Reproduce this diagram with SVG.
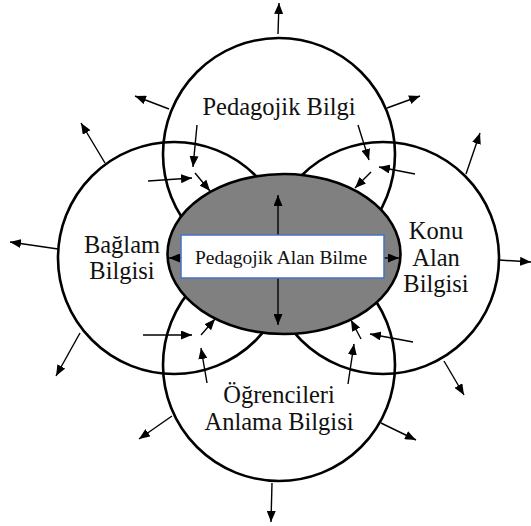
<svg xmlns="http://www.w3.org/2000/svg" width="531" height="526" viewBox="0 0 531 526">
<style>
.c{fill:none;stroke:#000;stroke-width:2.6}
.lbl{font-family:"Liberation Serif","Times New Roman",serif;font-size:24.5px;fill:#111;text-anchor:middle}
.a{stroke:#000;stroke-width:1.4;fill:none;marker-end:url(#ah)}
</style>
<defs>
<marker id="ah" viewBox="0 0 11 9" refX="11" refY="4.5" markerWidth="11" markerHeight="9" markerUnits="userSpaceOnUse" orient="auto">
<path d="M0,0 L11,4.5 L0,9 z" fill="#000"/>
</marker>
</defs>
<rect width="531" height="526" fill="#fff"/>
<g id="pedagojik-bilgi">
<circle class="c" cx="279" cy="154" r="116"/>
<text class="lbl" x="279" y="115">Pedagojik Bilgi</text>
</g>
<g id="baglam-bilgisi">
<circle class="c" cx="174" cy="258" r="116"/>
<text class="lbl" x="122" y="253">Bağlam</text>
<text class="lbl" x="122" y="279">Bilgisi</text>
</g>
<g id="konu-alan-bilgisi">
<circle class="c" cx="383" cy="258" r="116"/>
<text class="lbl" x="436" y="239">Konu</text>
<text class="lbl" x="436" y="266">Alan</text>
<text class="lbl" x="436" y="292">Bilgisi</text>
</g>
<g id="ogrencileri-anlama-bilgisi">
<circle class="c" cx="279" cy="365" r="116"/>
<text class="lbl" x="279" y="403">Öğrencileri</text>
<text class="lbl" x="279" y="430">Anlama Bilgisi</text>
</g>
<g id="pab-ellipse">
<ellipse cx="284" cy="254" rx="116.5" ry="80" fill="#808080" stroke="#000" stroke-width="2.6"/>
</g>
<g id="connectors">
<line class="a" x1="278" y1="34" x2="279" y2="3"/>
<line class="a" x1="169" y1="109" x2="135" y2="96"/>
<line class="a" x1="387" y1="108" x2="420" y2="96"/>
<line class="a" x1="105" y1="163" x2="81" y2="123"/>
<line class="a" x1="466" y1="174" x2="480" y2="133"/>
<line class="a" x1="58" y1="249" x2="10" y2="242"/>
<line class="a" x1="499" y1="260" x2="531" y2="262"/>
<line class="a" x1="80" y1="333" x2="56" y2="376"/>
<line class="a" x1="444" y1="361" x2="464" y2="395"/>
<line class="a" x1="172" y1="416" x2="139" y2="439"/>
<line class="a" x1="381" y1="423" x2="416" y2="440"/>
<line class="a" x1="272" y1="483" x2="271" y2="522"/>
<line class="a" x1="197" y1="125" x2="193" y2="167"/>
<line class="a" x1="148" y1="181" x2="192" y2="178"/>
<line class="a" x1="195" y1="173" x2="210" y2="191"/>
<line class="a" x1="358" y1="125" x2="369" y2="160"/>
<line class="a" x1="415" y1="174" x2="379" y2="167"/>
<line class="a" x1="371" y1="172" x2="355" y2="188"/>
<line class="a" x1="143" y1="335" x2="192" y2="335"/>
<line class="a" x1="201" y1="335" x2="215" y2="319"/>
<line class="a" x1="207" y1="383" x2="201" y2="348"/>
<line class="a" x1="413" y1="342" x2="370" y2="334"/>
<line class="a" x1="361" y1="339" x2="351" y2="320"/>
<line class="a" x1="348" y1="384" x2="354" y2="344"/>
<line class="a" x1="278" y1="236" x2="278" y2="195"/>
<line class="a" x1="278" y1="277" x2="278" y2="325"/>
<line class="a" x1="182" y1="258" x2="169" y2="258"/>
<line class="a" x1="383" y1="258" x2="399" y2="258"/>
</g>
<g id="pedagojik-alan-bilme">
<rect x="181" y="235" width="203" height="43" fill="#fff" stroke="#4472c4" stroke-width="1.5"/>
<text x="281" y="264" font-family="Liberation Serif, Times New Roman, serif" font-size="19.5" fill="#111" text-anchor="middle">Pedagojik Alan Bilme</text>
</g>
</svg>
